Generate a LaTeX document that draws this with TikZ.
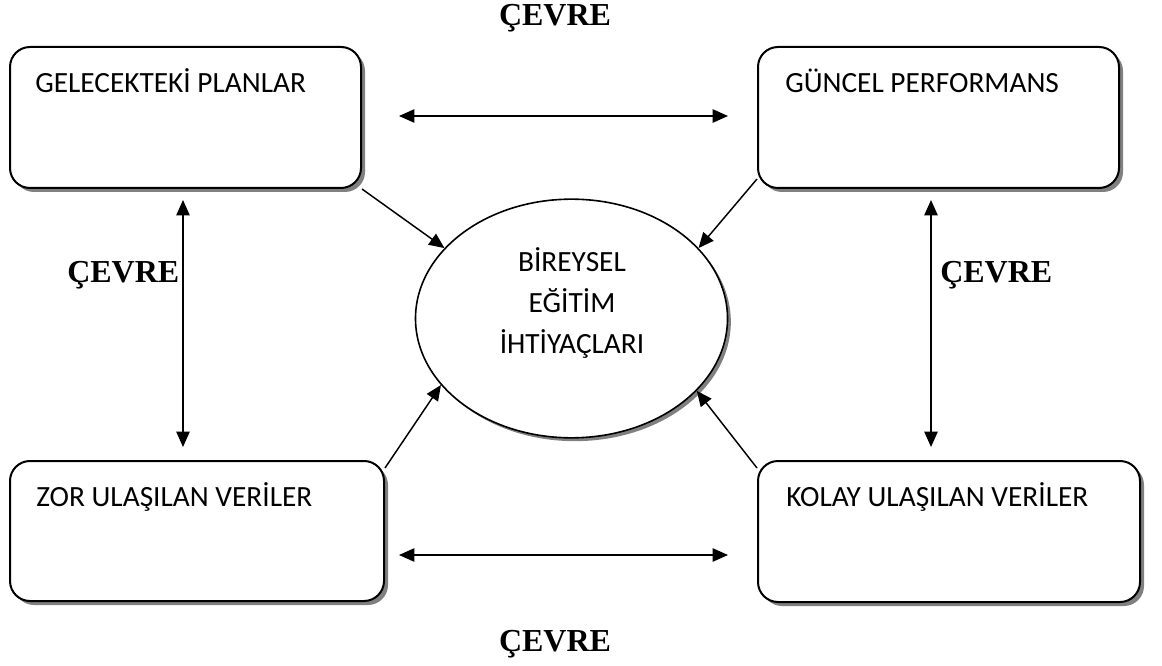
\documentclass[tikz,border=0pt]{standalone}
\usepackage{fontspec}
\setmainfont{Carlito}
\newfontfamily\tnr{Liberation Serif}
\usetikzlibrary{arrows.meta,shapes.geometric,shadows,calc}
\begin{document}
\begin{tikzpicture}[x=0.75pt,y=-0.75pt,
  boxshape/.style={draw, line width=1.5pt, rounded corners=15pt, fill=white, inner sep=0pt,
    drop shadow={shadow xshift=3pt, shadow yshift=-3pt, fill=black!50, opacity=1}},
  ovalshape/.style={draw, ellipse, line width=1.2pt, fill=white, inner sep=0pt,
    minimum width=234pt, minimum height=179pt,
    drop shadow={shadow xshift=2.5pt, shadow yshift=-2.5pt, fill=black!50, opacity=1}},
  boxtext/.style={anchor=base west, inner sep=0pt, font=\fontsize{22}{26}\selectfont},
  ovaltext/.style={anchor=base, inner sep=0pt, font=\fontsize{22}{26}\selectfont},
  envtext/.style={inner sep=0pt, font=\tnr\bfseries\fontsize{24}{28}\selectfont},
  conn/.style={line width=1.1pt, -{Triangle[length=11.5pt,width=10pt]}},
  dconn/.style={line width=1.1pt, {Triangle[length=11.5pt,width=10pt]}-{Triangle[length=11.5pt,width=10pt]}}
]
\useasboundingbox (0,0) rectangle (1162,666);

% boxes
\node[boxshape, minimum width=263.25pt, minimum height=105.75pt] (b1) at (185.5,117.5) {};
\node[boxshape, minimum width=270.75pt, minimum height=105.75pt] (b2) at (938.5,117.5) {};
\node[boxshape, minimum width=280.5pt, minimum height=105pt] (b3) at (197,531) {};
\node[boxshape, minimum width=286.5pt, minimum height=105.75pt] (b4) at (949,531.5) {};

% ellipse
\node[ovalshape] (e) at (571.5,318.5) {};

% texts
\node[boxtext] (t1) at (35,93) {GELECEKTEKİ PLANLAR};
\node[boxtext] (t2) at (785,93) {GÜNCEL PERFORMANS};
\node[boxtext] (t3) at (36,506) {ZOR ULAŞILAN VERİLER};
\node[boxtext] (t4) at (786,506) {KOLAY ULAŞILAN VERİLER};

\node[ovaltext] (e1) at (572,272) {BİREYSEL};
\node[ovaltext] (e2) at (572,312) {EĞİTİM};
\node[ovaltext] (e3) at (572,353) {İHTİYAÇLARI};

\node[envtext, anchor=base] (c1) at (555,26) {ÇEVRE};
\node[envtext, anchor=base west] (c2) at (67,282) {ÇEVRE};
\node[envtext, anchor=base west] (c3) at (940,282) {ÇEVRE};
\node[envtext, anchor=base] (c4) at (555,651) {ÇEVRE};

% arrow end points
\coordinate (h1a) at (399,116);
\coordinate (h1b) at (728,116);
\coordinate (h2a) at (399,555);
\coordinate (h2b) at (728,555);
\coordinate (v1a) at (183,200);
\coordinate (v1b) at (183,447);
\coordinate (v2a) at (931,200);
\coordinate (v2b) at (931,447);

\draw[dconn] (h1a) -- (h1b);
\draw[dconn] (h2a) -- (h2b);
\draw[dconn] (v1a) -- (v1b);
\draw[dconn] (v2a) -- (v2b);

% diagonal arrows into ellipse
\draw[conn] (b1.south east) -- (e.151.4);
\draw[conn] ($(b2.south west)+(0,-10)$) -- (e.29.3);
\draw[conn] ($(b3.north east)+(0,8)$) -- (e.207.3);
\draw[conn] ($(b4.north west)+(0,8)$) -- (e.330.2);
\end{tikzpicture}
\end{document}
